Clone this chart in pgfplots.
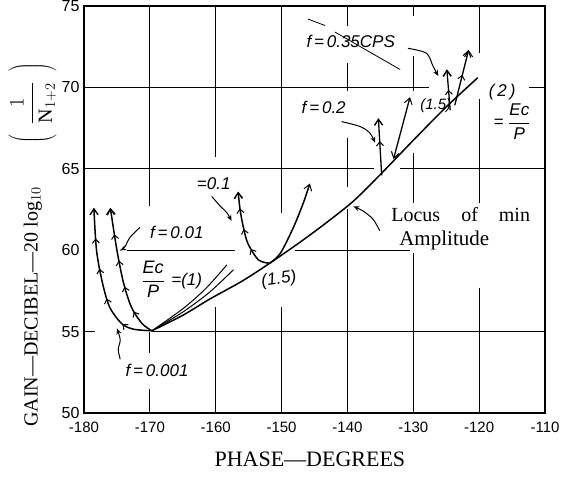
\documentclass[border=0pt]{standalone}
\usepackage{fontspec}
\setmainfont{Liberation Serif}
\newfontfamily\hand{Liberation Sans}
\usepackage{pgfplots}
\pgfplotsset{compat=1.18}
\usetikzlibrary{arrows.meta,decorations.markings}

\begin{document}
\begin{tikzpicture}
\begin{axis}[
  scale only axis, width=461pt, height=407pt,
  xmin=-180, xmax=-110, ymin=50, ymax=75,
  xtick={-180,-170,...,-110}, ytick={50,55,...,75},
  tick style={draw=none},
  axis line style={line width=1.2pt},
  /pgf/number format/assume math mode=true,
  xticklabel style={font=\hand\fontsize{15}{17}\selectfont, yshift=-5pt},
  yticklabel style={font=\hand\fontsize{16}{18}\selectfont, xshift=-1pt},
  xlabel={PHASE---DEGREES},
  xlabel style={font=\fontsize{22}{25}\selectfont, at={(axis description cs:0.49,-0.115)}, anchor=center},
  ylabel={GAIN---DECIBEL---20 log$_{10}$\hspace{2.2em}$\left(\vrule height 15pt depth 15pt width 0pt\hspace{0.5em}\displaystyle\frac{1}{\mathrm{N}_{1+2}}\hspace{0.5em}\right)$},
  ylabel style={font=\fontsize{20}{23}\selectfont, at={(axis description cs:-0.112,0.413)}, anchor=center},
  clip=false,
  gridl/.style={black, line width=1.1pt, forget plot},
  crv/.style={black, line width=1.5pt, smooth, forget plot},
  thin/.style={black, line width=1pt, smooth, forget plot, -{Stealth[length=6pt,width=5pt]}},
  chev/.style={postaction={decorate}, decoration={markings, mark=between positions #1 with {\arrow{Straight Barb[length=4pt,width=7pt,line width=1pt]}}}},
]
% ---- grid (broken where the drawing leaves gaps)
\addplot[gridl] coordinates {(-180,70) (-127.6,70)};
\addplot[gridl] coordinates {(-112.5,70) (-110,70)};
\addplot[gridl] coordinates {(-180,65) (-136,65)};
\addplot[gridl] coordinates {(-132,65) (-110,65)};
\addplot[gridl] coordinates {(-173.5,60) (-157.1,60)};
\addplot[gridl] coordinates {(-148,60) (-130.5,60)};
\addplot[gridl] coordinates {(-180,55) (-178.3,55)};
\addplot[gridl] coordinates {(-169.7,55) (-110,55)};
\addplot[gridl] coordinates {(-170,75) (-170,62.7)};
\addplot[gridl] coordinates {(-170,55.0) (-170,53.7)};
\addplot[gridl] coordinates {(-170,51.5) (-170,50)};
\addplot[gridl] coordinates {(-160,75) (-160,65.7)};
\addplot[gridl] coordinates {(-160,56.5) (-160,50)};
\addplot[gridl] coordinates {(-150,75) (-150,62.3)};
\addplot[gridl] coordinates {(-150,56.5) (-150,50)};
\addplot[gridl] coordinates {(-140,75) (-140,73.8)};
\addplot[gridl] coordinates {(-140,71.5) (-140,69.8)};
\addplot[gridl] coordinates {(-140,66.9) (-140,63.9)};
\addplot[gridl] coordinates {(-140,62.5) (-140,50)};
\addplot[gridl] coordinates {(-130,75) (-130,74.4)};
\addplot[gridl] coordinates {(-130,71.9) (-130,69.8)};
\addplot[gridl] coordinates {(-130,66.0) (-130,62.9)};
\addplot[gridl] coordinates {(-130,59.8) (-130,50)};
\addplot[gridl] coordinates {(-120,75) (-120,72.1)};
\addplot[gridl] coordinates {(-120,69.3) (-120,62.9)};
\addplot[gridl] coordinates {(-120,57.7) (-120,50)};

% ---- locus of minimum amplitude
\addplot[crv] coordinates {(-169.7,55.05) (-165,56.0) (-160.9,57.0) (-156,58.1) (-151.8,59.2) (-147,60.55) (-143,61.75) (-139,63.05) (-135,64.65) (-130,66.75) (-125,68.8) (-120.2,70.6)};
% ---- Ec/P = 1 curves
\addplot[crv, chev={0.2 and 0.85 step 0.2}, -{Straight Barb[length=6pt,width=8pt,line width=1pt]}] coordinates {(-169.7,55.05) (-172.5,55.15) (-174.3,55.5) (-176.1,56.5) (-177.2,58.0) (-178.1,60.0) (-178.5,62.6)};
\addplot[crv, chev={0.2 and 0.85 step 0.2}, -{Straight Barb[length=6pt,width=8pt,line width=1pt]}] coordinates {(-169.7,55.05) (-171.2,55.5) (-172.8,56.5) (-174.0,58.0) (-175.0,60.0) (-176.0,62.6)};
\addplot[black, line width=1pt, smooth, forget plot] coordinates {(-169.7,55.05) (-165,56.4) (-161.5,57.65) (-158.3,59.1)};
\addplot[black, line width=1pt, smooth, forget plot] coordinates {(-169.7,55.05) (-165,56.2) (-161,57.4) (-157.3,58.8)};
% ---- Ec/P = 1.5 curves
\addplot[crv, chev={0.3 and 0.8 step 0.25}, -{Straight Barb[length=6pt,width=8pt,line width=1pt]}] coordinates {(-151.8,59.2) (-153.5,59.4) (-155.1,60.4) (-155.8,61.4) (-156.3,62.5) (-156.6,63.6)};
\addplot[crv, -{Straight Barb[length=6pt,width=8pt,line width=1pt]}] coordinates {(-151.8,59.2) (-150.2,59.8) (-148.2,61.4) (-146.7,62.9) (-145.7,64.1)};
% ---- short arrows near top right
\addplot[black, line width=1.3pt, forget plot, chev={0.6 and 0.7 step 0.5}, -{Straight Barb[length=6pt,width=8pt,line width=1pt]}] coordinates {(-134.8,64.6) (-135.3,68.1)};
\addplot[black, line width=1.3pt, forget plot, {Straight Barb[length=6pt,width=8pt,line width=1pt]}-{Straight Barb[length=6pt,width=8pt,line width=1pt]}] coordinates {(-133.0,65.6) (-130.5,69.4)};
\addplot[black, line width=1.3pt, forget plot, chev={0.5 and 0.6 step 0.5}, -{Straight Barb[length=6pt,width=8pt,line width=1pt]}] coordinates {(-124.4,68.6) (-124.9,71.1)};
\addplot[black, line width=1.3pt, forget plot, chev={0.55 and 0.6 step 0.5}, -{Straight Barb[length=6pt,width=8pt,line width=1pt]}] coordinates {(-123.7,68.9) (-121.6,72.3)};

% ---- annotation arrows
\addplot[thin] coordinates {(-130.8,72.4) (-128.0,72.1) (-127.0,71.3) (-126.2,70.7)};
\addplot[thin] coordinates {(-140.9,67.9) (-138.1,67.6) (-136.6,67.2) (-135.8,66.6)};
\addplot[thin] coordinates {(-160.6,63.3) (-159.3,62.7) (-158.3,62.3) (-157.6,61.8)};
\addplot[thin] coordinates {(-171.5,61.4) (-173.0,60.8) (-173.8,60.2) (-174.5,60.0)};
\addplot[thin] coordinates {(-174.5,53.3) (-174.8,53.9) (-174.5,54.5) (-175.0,55.2)};
\addplot[thin] coordinates {(-135.1,61.2) (-136.1,61.9) (-137.6,62.4) (-139.1,62.7)};
\addplot[black, line width=0.8pt, forget plot] coordinates {(-146.0,74.2) (-143.4,73.8)};
\addplot[black, line width=0.8pt, forget plot] coordinates {(-141.9,73.4) (-132.0,71.1)};

% ---- texts
\begin{scope}[every node/.style={font=\hand\itshape\fontsize{17}{19}\selectfont, inner sep=0pt}]
\node at (axis cs:-139.5,72.8) {f\,=\,0.35CPS};
\node at (axis cs:-143.6,68.8) {f\,=\,0.2};
\node[font=\hand\itshape\fontsize{15}{17}\selectfont] at (axis cs:-126.6,68.9) {(1.5)};
\node at (axis cs:-116.5,69.7) {(\,2\,)};
\node at (axis cs:-115.0,67.9) {= $\displaystyle\frac{\mbox{\hand Ec}}{\mbox{\hand P}}$};
\node at (axis cs:-160.3,64.1) {=0.1};
\node at (axis cs:-165.9,61.1) {f\,=\,0.01};
\node at (axis cs:-169.5,58.2) {$\displaystyle\frac{\mbox{\hand\fontsize{18}{20}\selectfont Ec}}{\mbox{\hand\fontsize{18}{20}\selectfont P}}$};
\node at (axis cs:-164.4,58.1) {=(1)};
\node[rotate=8] at (axis cs:-150.4,58.2) {(1.5)};
\node at (axis cs:-168.9,52.6) {f\,=\,0.001};
\end{scope}
\node[font=\fontsize{20}{23}\selectfont, inner sep=0pt] at (axis cs:-122.8,62.2) {Locus\hspace{0.8em} of\hspace{0.8em} min};
\node[font=\fontsize{21}{24}\selectfont, inner sep=0pt] at (axis cs:-125.3,60.6) {Amplitude};
\end{axis}
\pgfresetboundingbox
\path ([xshift=-84pt,yshift=-63pt]current axis.south west) rectangle ([xshift=24pt,yshift=6pt]current axis.north east);
\end{tikzpicture}
\end{document}
